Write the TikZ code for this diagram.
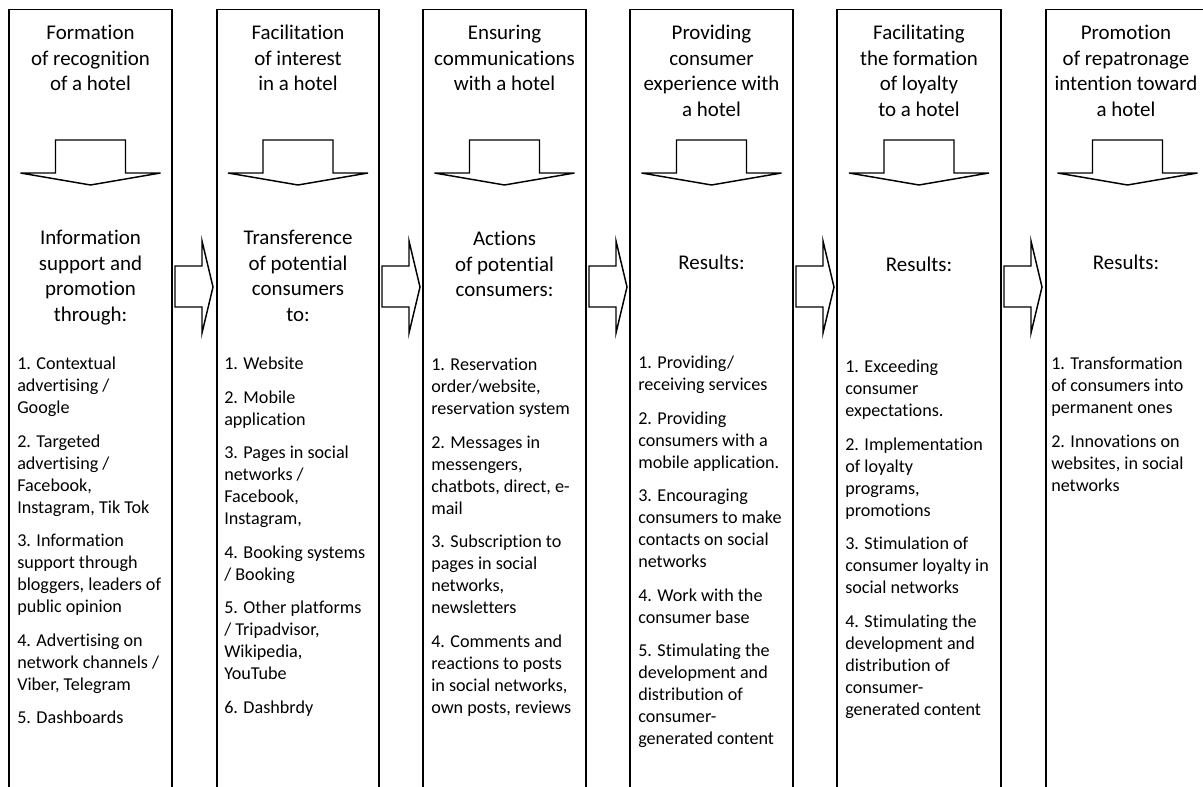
\documentclass[tikz,border=0pt]{standalone}
\usepackage{fontspec}
\setmainfont{Carlito}[Ligatures={NoCommon,NoContextual,NoRequired},RawFeature={-clig}]
\tikzset{
  colline/.style={line width=1.1pt, draw=black},
  blockarrow/.style={line width=1.1pt, draw=black, fill=white, line join=miter},
  ttl/.style={inner sep=0pt, anchor=base, font=\fontsize{15.7}{19.1}\selectfont},
  bodytext/.style={inner sep=0pt, anchor=base west, font=\fontsize{13.6}{16.5}\selectfont},
}
\newcommand\ctext[1]{\parbox[t]{125pt}{\centering #1}}
\newcommand\ltext[1]{\parbox[t]{125pt}{\raggedright\setlength{\parskip}{8.6pt}#1}}
\begin{document}
\begin{tikzpicture}[x=0.75pt,y=-0.75pt]
\clip (0,0) rectangle (1203,787);
\fill[white] (0,0) rectangle (1203,787);
% columns
\foreach \l/\r in {9/172, 217/379, 423/586, 630/793, 837/1001, 1046/1209}{
  \draw[colline] (\l,800) -- (\l,9.5) -- (\r,9.5) -- (\r,800);
  \pgfmathsetmacro\c{(\l+\r)/2}
  \draw[blockarrow] (\c-35,140) -- (\c+35,140) -- (\c+35,173) -- (\c+70,173)
    -- (\c,185) -- (\c-70,173) -- (\c-35,173) -- cycle;
}
% arrows between columns
\foreach \x in {175, 382, 589, 796, 1004}{
  \draw[blockarrow] (\x,266) -- (\x+27,266) -- (\x+27,241) -- (\x+38,287)
    -- (\x+27,333) -- (\x+27,307) -- (\x,307) -- cycle;
}
% titles
\node[ttl] (t1) at (90.5,40) {\ctext{Formation\\of recognition\\of a hotel}};
\node[ttl] (t2) at (298,40) {\ctext{Facilitation\\of interest\\in a hotel}};
\node[ttl] (t3) at (504.5,40) {\ctext{Ensuring\\communications\\with a hotel}};
\node[ttl] (t4) at (711.5,40) {\ctext{Providing\\consumer\\experience with\\a hotel}};
\node[ttl] (t5) at (919,40) {\ctext{Facilitating\\the formation\\of loyalty\\to a hotel}};
\node[ttl] (t6) at (1126,40) {\ctext{Promotion\\of repatronage\\intention toward\\a hotel}};
% middle headings
\node[ttl] (m1) at (90.5,245) {\ctext{Information\\support and\\promotion\\through:}};
\node[ttl] (m2) at (298,245) {\ctext{Transference\\of potential\\consumers\\to:}};
\node[ttl] (m3) at (504.5,246) {\ctext{Actions\\of potential\\consumers:}};
\node[ttl] (m4) at (711.5,270) {\ctext{Results:}};
\node[ttl] (m5) at (919,272) {\ctext{Results:}};
\node[ttl] (m6) at (1126,270) {\ctext{Results:}};
% lists
\node[bodytext] (b1) at (17,370) {\ltext{1. Contextual\\advertising /\\Google\par
2. Targeted\\advertising /\\Facebook,\\Instagram, Tik Tok\par
3. Information\\support through\\bloggers, leaders of\\public opinion\par
4. Advertising on\\network channels /\\Viber, Telegram\par
5. Dashboards}};
\node[bodytext] (b2) at (224,370) {\ltext{1. Website\par
2. Mobile\\application\par
3. Pages in social\\networks /\\Facebook,\\Instagram,\par
4. Booking systems\\/ Booking\par
5. Other platforms\\/ Tripadvisor,\\Wikipedia,\\YouTube\par
6. Dashbrdy}};
\node[bodytext] (b3) at (431,371) {\ltext{1. Reservation\\order/website,\\reservation system\par
2. Messages in\\messengers,\\chatbots, direct, e-\\mail\par
3. Subscription to\\pages in social\\networks,\\newsletters\par
4. Comments and\\reactions to posts\\in social networks,\\own posts, reviews}};
\node[bodytext] (b4) at (638,369) {\ltext{1. Providing/\\receiving services\par
2. Providing\\consumers with a\\mobile application.\par
3. Encouraging\\consumers to make\\contacts on social\\networks\par
4. Work with the\\consumer base\par
5. Stimulating the\\development and\\distribution of\\consumer-\\generated content}};
\node[bodytext] (b5) at (845,373) {\ltext{1. Exceeding\\consumer\\expectations.\par
2. Implementation\\of loyalty\\programs,\\promotions\par
3. Stimulation of\\consumer loyalty in\\social networks\par
4. Stimulating the\\development and\\distribution of\\consumer-\\generated content}};
\node[bodytext] (b6) at (1051,370) {\ltext{1. Transformation\\of consumers into\\permanent ones\par
2. Innovations on\\websites, in social\\networks}};
\end{tikzpicture}
\end{document}
